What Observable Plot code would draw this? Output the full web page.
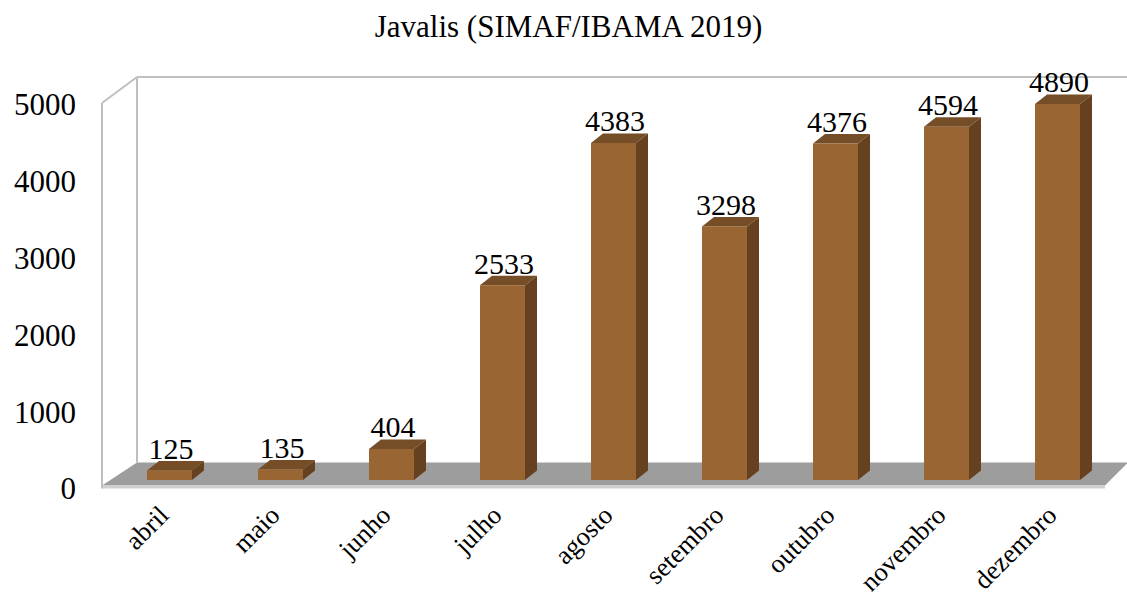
<!DOCTYPE html>
<html><head><meta charset="utf-8">
<script src="https://cdn.jsdelivr.net/npm/d3@7"></script>
<script src="https://cdn.jsdelivr.net/npm/@observablehq/plot@0.6"></script>
<style>
body{margin:0;background:#fff;}
#wrap{position:relative;width:1127px;height:600px;overflow:hidden;}
#title{position:absolute;left:5px;top:11px;width:1127px;text-align:center;font-family:"Liberation Serif","Times New Roman",serif;font-size:31px;line-height:31px;color:#000;}
</style></head><body>
<div id="wrap"></div>
<script>
const months = ["abril","maio","junho","julho","agosto","setembro","outubro","novembro","dezembro"];
const counts = [125,135,404,2533,4383,3298,4376,4594,4890];
const yTicks = [0,1000,2000,3000,4000,5000];
const titleText = "Javalis (SIMAF/IBAMA 2019)";

const data = months.map((m, i) => ({month: m, count: counts[i]}));

const FRONT = "#996633", SIDE = "#65411f", TOP = "#754d27";
const FLOOR = "#9d9d9d", LIP = "#d0d0d0", WALL = "#bfbfbf";
const serif = "'Liberation Serif', 'Times New Roman', serif";

// background box: walls + floor, derived from the scales and frame
function box(index, scales, values, dim) {
  const L = dim.marginLeft, R = dim.width - dim.marginRight;
  const y0 = scales.y(0), yT = scales.y(d3.max(yTicks));
  const g = d3.create("svg:g");
  const front = y0 + 5.5, lipB = y0 + 8.5, back = y0 - 17.5;
  const fl = L - 11.5, bl = L + 23.5, fr = R - 7.5, br = R + 15.5;
  const wallTop = yT - 18.5, wallFrontTop = yT + 7.5;
  g.append("polygon").attr("points", `${bl},${back} ${br},${back} ${fr},${front} ${fl},${front}`).attr("fill", FLOOR);
  g.append("polygon").attr("points", `${fl},${front} ${fr},${front} ${fr},${lipB} ${fl},${lipB}`).attr("fill", LIP);
  const line = (x1, y1, x2, y2) => g.append("line").attr("x1", x1).attr("y1", y1).attr("x2", x2).attr("y2", y2)
    .attr("stroke", WALL).attr("stroke-width", 2);
  line(bl, back, bl, wallTop);
  line(bl, wallTop, br, wallTop);
  line(fl, lipB, fl, wallFrontTop);
  line(fl, wallFrontTop, bl, wallTop);
  return g.node();
}

// side + top faces of each bar
function faces(index, scales) {
  const x = scales.x, y = scales.y;
  const bw = typeof x.bandwidth === "function" ? x.bandwidth() : x.bandwidth;
  const DX = 12, DY = -9.5;
  const g = d3.create("svg:g");
  for (const d of data) {
    const x1 = x(d.month), x2 = x1 + bw, yt = y(d.count), yb = y(0);
    g.append("polygon").attr("points", `${x2},${yt} ${x2 + DX},${yt + DY} ${x2 + DX},${yb + DY} ${x2},${yb}`).attr("fill", SIDE);
    g.append("polygon").attr("points", `${x1},${yt} ${x1 + DX},${yt + DY} ${x2 + DX},${yt + DY} ${x2},${yt}`).attr("fill", TOP);
  }
  return g.node();
}

const chart = Plot.plot({
  width: 1127,
  height: 600,
  marginTop: 95.5,
  marginBottom: 120,
  marginLeft: 113.5,
  marginRight: 14.5,
  style: {fontFamily: serif, background: "transparent", color: "#000"},
  x: {type: "band", domain: months, paddingInner: 0.595, paddingOuter: 0.2975, axis: null},
  y: {domain: [0, 5000], axis: null},
  marks: [
    box,
    faces,
    Plot.barY(data, {x: "month", y: "count", fill: FRONT}),
    Plot.axisY(yTicks, {tickSize: 0, tickPadding: 38, fontSize: 31, dy: 9, label: null, tickFormat: d => String(d), fontFamily: serif, fill: "#000"}),
    Plot.text(data, {x: "month", y: "count", text: d => String(d.count), dy: -12, dx: 1, lineAnchor: "bottom", fontSize: 30, fontFamily: serif, fill: "#000"}),
    Plot.text(data, {x: "month", y: () => 0, text: "month", rotate: -45, textAnchor: "end", lineAnchor: "top", dx: -13, dy: 23, fontSize: 26.5, fontFamily: serif, fill: "#000"})
  ]
});

const wrap = document.getElementById("wrap");
wrap.appendChild(chart);
const t = document.createElement("div");
t.id = "title";
t.textContent = titleText;
wrap.appendChild(t);
</script>
</body></html>
